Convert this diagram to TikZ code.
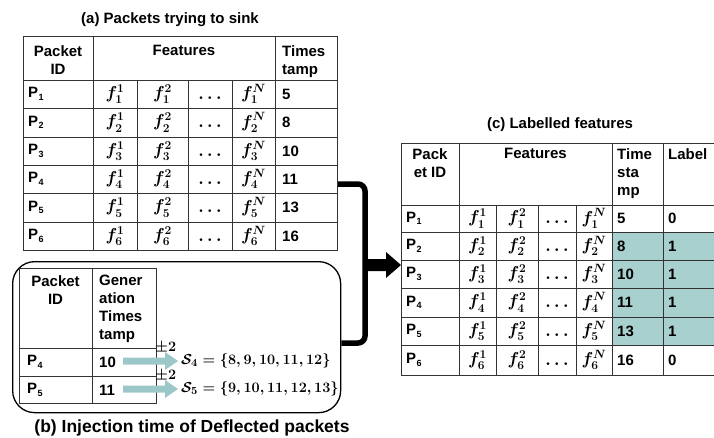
\documentclass[tikz,border=0pt]{standalone}
\usepackage{amsmath}
\usepackage{fontspec}
\setmainfont{Liberation Sans}
\usetikzlibrary{positioning}

\definecolor{gridline}{HTML}{333333}
\definecolor{tealcell}{HTML}{A8D0CE}
\definecolor{tealarrow}{HTML}{9CC7C8}

% packet identifier with a small lowered index
\newcommand{\pkt}[1]{P\kern0.5pt\raisebox{-2.5pt}{\fontsize{9}{9}\selectfont #1}}
\newcommand{\feat}[2]{$f_{#1}^{#2}$}
\newcommand{\fdots}{$\ldots$}

\begin{document}
\begin{tikzpicture}[x=1pt,y=-1pt,
  every node/.style={font=\fontsize{15}{18}\selectfont\bfseries, inner sep=0pt},
  grid/.style={draw=gridline, line width=1pt},
  lefttxt/.style={anchor=west},
  headtxt/.style={anchor=north, align=center},
  headleft/.style={anchor=north west, align=left},
  mathtxt/.style={anchor=center, font=\fontsize{17}{20}\selectfont\boldmath},
  dotstxt/.style={anchor=base, font=\fontsize{17}{20}\selectfont\boldmath},
  settxt/.style={anchor=west, font=\fontsize{15}{18}\selectfont\boldmath},
  caption/.style={anchor=center},
  bigcaption/.style={anchor=center, font=\fontsize{17.5}{20}\selectfont\bfseries},
  bigarrow/.style={fill=black},
  smallarrow/.style={fill=tealarrow},
  bracket/.style={draw=black, line width=5.5pt, rounded corners=7pt}
]
\useasboundingbox (0,0) rectangle (714,437);

% ---------------- (a) Packets trying to sink ----------------
\node[caption] (capA) at (170,20) {(a) Packets trying to sink};
\node[grid, minimum width=314pt, minimum height=214pt, anchor=north west] (tabA) at (23,36) {};
\draw[grid] (23,80) -- (337,80);
\foreach \y in {108,137,165,193,222} \draw[grid] (23,\y) -- (337,\y);
\draw[grid] (93,36) -- (93,250);
\draw[grid] (275,36) -- (275,250);
\foreach \x in {137,188,232} \draw[grid] (\x,80) -- (\x,250);
\node[headtxt] (aPid) at (58,45) {Packet\\ID};
\node[headtxt] (aFeat) at (184,45) {Features};
\node[headleft] (aTs) at (282,45) {Times\\tamp};
\foreach \i/\y/\t in {1/94/5, 2/122.5/8, 3/151/10, 4/179/11, 5/207.5/13, 6/236/16} {
  \node[lefttxt] (aP\i) at (28,\y) {\pkt{\i}};
  \node[mathtxt] (aF\i a) at (115,\y) {\feat{\i}{1}};
  \node[mathtxt] (aF\i b) at (162.5,\y) {\feat{\i}{2}};
  \node[dotstxt] (aF\i c) at (210,\y+5) {\fdots};
  \node[mathtxt] (aF\i n) at (253.5,\y) {\feat{\i}{N}};
  \node[lefttxt] (aT\i) at (282,\y) {\t};
}

% ---------------- (b) Injection time of deflected packets ----------------
\node[draw=black, line width=1.3pt, rounded corners=22pt, minimum width=328pt, minimum height=151pt, anchor=north west] (boxB) at (12,261) {};
\node[grid, minimum width=137pt, minimum height=135pt, anchor=north west] (tabB) at (19,268) {};
\draw[grid] (92,268) -- (92,403);
\draw[grid] (19,348) -- (156,348);
\draw[grid] (19,376) -- (156,376);
\node[headtxt] (bPid) at (55.5,275) {Packet\\ID};
\node[headleft] (bGen) at (99,275) {Gener\\ation\\Times\\tamp};
\node[lefttxt] (bP4) at (27,362) {\pkt{4}};
\node[lefttxt] (bP5) at (27,390) {\pkt{5}};
\node[lefttxt] (bT4) at (99,362) {10};
\node[lefttxt] (bT5) at (99,390) {11};
\foreach \y/\k/\s in {361/4/{8, 9, 10, 11, 12}, 389/5/{9, 10, 11, 12, 13}} {
  \fill[smallarrow] (123,\y-3.5) -- (165,\y-3.5) -- (165,\y-9) -- (178,\y)
        -- (165,\y+9) -- (165,\y+3.5) -- (123,\y+3.5) -- cycle;
  \node[settxt, anchor=base west] (pm\k) at (155,\y-10) {$\pm 2$};
  \node[settxt] (set\k) at (181,\y) {$\mathcal{S}_{\k} = \{\s\}$};
}
\node[bigcaption] (capB) at (192,428) {(b) Injection time of Deflected packets};

% ---------------- (c) Labelled features ----------------
\node[caption] (capC) at (560,125) {(c) Labelled features};
\node[minimum width=313pt, minimum height=232pt, anchor=north west] (tabC) at (401,143) {};
\fill[tealcell] (612,232) rectangle (714,345);
\draw[grid] (714,143) -- (401,143) -- (401,375) -- (714,375);
\foreach \y in {205,232,260,288,317,345} \draw[grid] (401,\y) -- (714,\y);
\foreach \x in {459,612,663} \draw[grid] (\x,143) -- (\x,375);
\foreach \x in {496,538,576} \draw[grid] (\x,205) -- (\x,375);
\node[headtxt] (cPid) at (430,148) {Pack\\et ID};
\node[headtxt] (cFeat) at (535.5,148) {Features};
\node[headleft] (cTs) at (617,148) {Time\\sta\\mp};
\node[headleft] (cLab) at (668,148) {Label};
\foreach \i/\y/\t/\l in {1/218.5/5/0, 2/246/8/1, 3/274/10/1, 4/302.5/11/1, 5/331/13/1, 6/360/16/0} {
  \node[lefttxt] (cP\i) at (406,\y) {\pkt{\i}};
  \node[mathtxt] (cF\i a) at (477.5,\y) {\feat{\i}{1}};
  \node[mathtxt] (cF\i b) at (517,\y) {\feat{\i}{2}};
  \node[dotstxt] (cF\i c) at (557,\y+5) {\fdots};
  \node[mathtxt] (cF\i n) at (594,\y) {\feat{\i}{N}};
  \node[lefttxt] (cT\i) at (617,\y) {\t};
  \node[lefttxt] (cL\i) at (668,\y) {\l};
}

% ---------------- joining bracket and block arrow ----------------
\coordinate (bend) at (365,265);
\draw[bracket] (tabA.east |- 0,184) -| (bend) |- (boxB.east |- 0,343);
\fill[bigarrow] (bend |- 0,259) -- (386,259) -- (386,252) -- (tabC.west |- 0,265) -- (386,278) -- (386,271) -- (bend |- 0,271) -- cycle;
\end{tikzpicture}
\end{document}
